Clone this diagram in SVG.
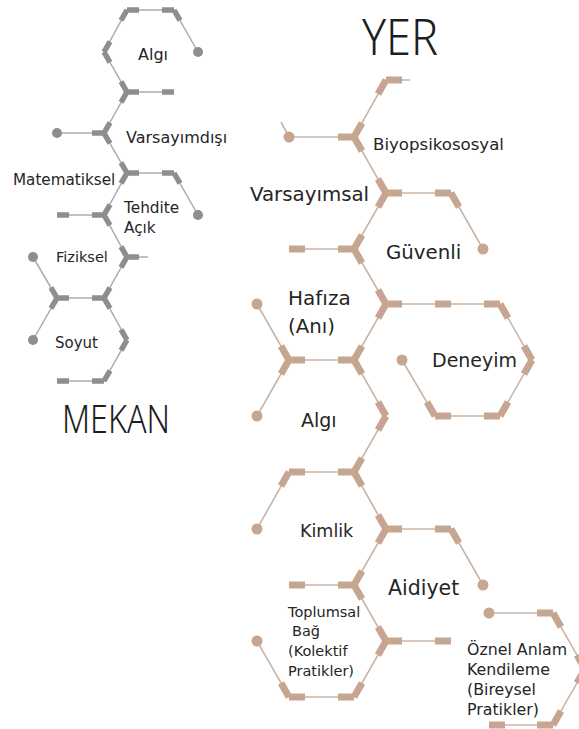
<svg xmlns="http://www.w3.org/2000/svg" width="579" height="729" viewBox="0 0 579 729">
<style>
.bg{fill:#ffffff}
.tr{fill:none;stroke:#c9b5a8;stroke-width:1.6;stroke-linejoin:miter}
.kr{fill:none;stroke:#c7a691;stroke-width:7;stroke-linecap:butt}
.dr{fill:#c7a691}
.tg{fill:none;stroke:#ababab;stroke-width:1.5}
.kg{fill:none;stroke:#8e8e8e;stroke-width:5.5;stroke-linecap:butt}
.dg{fill:#8e8e8e}
.lbl{font-family:"DejaVu Sans","Noto Sans",sans-serif;fill:#252525}
.ttl{font-family:"Noto Sans","DejaVu Sans",sans-serif;font-weight:300;fill:#1e1e1e}
</style>
<rect class="bg" x="0" y="0" width="579" height="729"/>

<g id="connectors">
  <g id="mekan-lattice">
    <polyline class="tg" points="198,52 174,10 127,10 104,52 127,92 104,133 127,173 104,215 127,257 104,298 127,340 104,381 57,381"/>
    <line class="tg" x1="127" y1="92" x2="174" y2="92"/>
    <line class="tg" x1="57" y1="133" x2="104" y2="133"/>
    <polyline class="tg" points="127,173 174,173 198,215"/>
    <line class="tg" x1="57" y1="215" x2="104" y2="215"/>
    <line class="tg" x1="127" y1="257" x2="148" y2="257"/>
    <line class="tg" x1="57" y1="298" x2="104" y2="298"/>
    <polyline class="tg" points="33,257 57,298 33,340"/>
    <path class="kg" d="M127,10H139M127,10L121,20.4M174,10H162M174,10L180,20.4
      M104,52L110,41.6M104,52L110,62.4
      M127,92L121,81.6M127,92H139M127,92L121,102.4M162,92H174
      M104,133L110,122.6M104,133H92M104,133L110,143.4
      M127,173L121,162.6M127,173H139M127,173L121,183.4M174,173H162M174,173L180,183.4
      M104,215L110,204.6M104,215H92M104,215L110,225.4M57,215H69
      M127,257L121,246.6M127,257H139M127,257L121,267.4
      M104,298L110,287.6M104,298H92M104,298L110,308.4
      M57,298H69M57,298L51,287.6M57,298L51,308.4
      M127,340L121,329.6M127,340L121,350.4
      M104,381L110,370.6M104,381H92M57,381H69"/>
    <circle class="dg" cx="198" cy="52" r="5"/>
    <circle class="dg" cx="57" cy="133" r="5"/>
    <circle class="dg" cx="198" cy="215" r="5"/>
    <circle class="dg" cx="33" cy="257" r="5"/>
    <circle class="dg" cx="33" cy="340" r="5"/>
  </g>
  <g id="yer-lattice">
    <polyline class="tr" points="410,80 386,80 354,137 386,193 354,249 386,304 354,360 386,416 354,472 386,529 354,585 386,641 354,697 289,697 257,641"/>
    <line class="tr" x1="289" y1="137" x2="354" y2="137"/>
    <line class="tr" x1="281" y1="122" x2="289" y2="137"/>
    <polyline class="tr" points="386,193 451,193 483,249"/>
    <line class="tr" x1="289" y1="249" x2="354" y2="249"/>
    <polyline class="tr" points="386,304 500,304 532,360 500,416 435,416 402,360"/>
    <line class="tr" x1="289" y1="360" x2="354" y2="360"/>
    <polyline class="tr" points="257,304 289,360 257,416"/>
    <polyline class="tr" points="354,472 289,472 257,529"/>
    <polyline class="tr" points="386,529 451,529 483,585"/>
    <line class="tr" x1="289" y1="585" x2="354" y2="585"/>
    <line class="tr" x1="386" y1="641" x2="451" y2="641"/>
    <polyline class="tr" points="489,613 553,613 585,669 553,725 489,725"/>
    <path class="kr" d="M386,80L378,93.9M386,80H402
      M354,137L362,123.1M354,137H338M354,137L362,150.9
      M386,193L378,179.1M386,193H402M386,193L378,206.9
      M451,193H435M451,193L459,206.9
      M354,249L362,235.1M354,249H338M354,249L362,262.9M289,249H305
      M386,304L378,290.1M386,304H402M386,304L378,317.9M435,304H451
      M500,304H484M500,304L508,317.9
      M532,360L524,346.1M532,360L524,373.9
      M500,416L508,402.1M500,416H484
      M435,416H451M435,416L427,402.1
      M354,360L362,346.1M354,360H338M354,360L362,373.9
      M289,360H305M289,360L281,346.1M289,360L281,373.9
      M386,416L378,402.1M386,416L378,429.9
      M354,472L362,458.1M354,472H338M354,472L362,485.9
      M289,472H305M289,472L281,485.9
      M386,529L378,515.1M386,529H402M386,529L378,542.9
      M451,529H435M451,529L459,542.9
      M354,585L362,571.1M354,585H338M354,585L362,598.9M289,585H305
      M386,641L378,627.1M386,641H402M386,641L378,654.9M435,641H451
      M354,697L362,683.1M354,697H338
      M289,697H305M289,697L281,683.1
      M553,613H537M553,613L561,626.9
      M585,669L577,655.1M585,669L577,682.9
      M553,725L561,711.1M553,725H537M489,725H505"/>
    <circle class="dr" cx="289" cy="137" r="5.5"/>
    <circle class="dr" cx="483" cy="249" r="5.5"/>
    <circle class="dr" cx="402" cy="360" r="5.5"/>
    <circle class="dr" cx="257" cy="304" r="5.5"/>
    <circle class="dr" cx="257" cy="416" r="5.5"/>
    <circle class="dr" cx="257" cy="529" r="5.5"/>
    <circle class="dr" cx="483" cy="585" r="5.5"/>
    <circle class="dr" cx="257" cy="641" r="5.5"/>
    <circle class="dr" cx="489" cy="613" r="5.5"/>
  </g>
</g>

<g id="title-yer"><text class="ttl" x="362" y="55" font-size="50" textLength="76" lengthAdjust="spacingAndGlyphs">YER</text></g>
<g id="title-mekan"><text class="ttl" x="62" y="433" font-size="38" textLength="108" lengthAdjust="spacingAndGlyphs">MEKAN</text></g>

<g id="m-algi"><text class="lbl" x="138" y="60" font-size="16">Algı</text></g>
<g id="m-varsayimdisi"><text class="lbl" x="126" y="143" font-size="16">Varsayımdışı</text></g>
<g id="m-matematiksel"><text class="lbl" x="13" y="185" font-size="15.2">Matematiksel</text></g>
<g id="m-tehdite"><text class="lbl" x="124" y="213" font-size="15.3">Tehdite</text><text class="lbl" x="124" y="233" font-size="15.3">Açık</text></g>
<g id="m-fiziksel"><text class="lbl" x="56" y="262" font-size="14.5">Fiziksel</text></g>
<g id="m-soyut"><text class="lbl" x="55" y="348" font-size="15">Soyut</text></g>

<g id="y-biyopsikososyal"><text class="lbl" x="373" y="150" font-size="16.6">Biyopsikososyal</text></g>
<g id="y-varsayimsal"><text class="lbl" x="250" y="201" font-size="19.8">Varsayımsal</text></g>
<g id="y-guvenli"><text class="lbl" x="386" y="259" font-size="19.8">Güvenli</text></g>
<g id="y-hafiza"><text class="lbl" x="288" y="305" font-size="20">Hafıza</text><text class="lbl" x="288" y="333" font-size="19.8">(Anı)</text></g>
<g id="y-deneyim"><text class="lbl" x="432" y="367" font-size="19">Deneyim</text></g>
<g id="y-algi"><text class="lbl" x="301" y="427" font-size="19">Algı</text></g>
<g id="y-kimlik"><text class="lbl" x="300" y="537" font-size="17.5">Kimlik</text></g>
<g id="y-aidiyet"><text class="lbl" x="388" y="595" font-size="20.5">Aidiyet</text></g>
<g id="y-toplumsal"><text class="lbl" font-size="14.5"><tspan x="288" y="617">Toplumsal</tspan><tspan x="292" y="636">Bağ</tspan><tspan x="288" y="656">(Kolektif</tspan><tspan x="288" y="676">Pratikler)</tspan></text></g>
<g id="y-oznel"><text class="lbl" font-size="15.8"><tspan x="467" y="655">Öznel Anlam</tspan><tspan x="467" y="675">Kendileme</tspan><tspan x="467" y="695">(Bireysel</tspan><tspan x="467" y="715">Pratikler)</tspan></text></g>
</svg>
